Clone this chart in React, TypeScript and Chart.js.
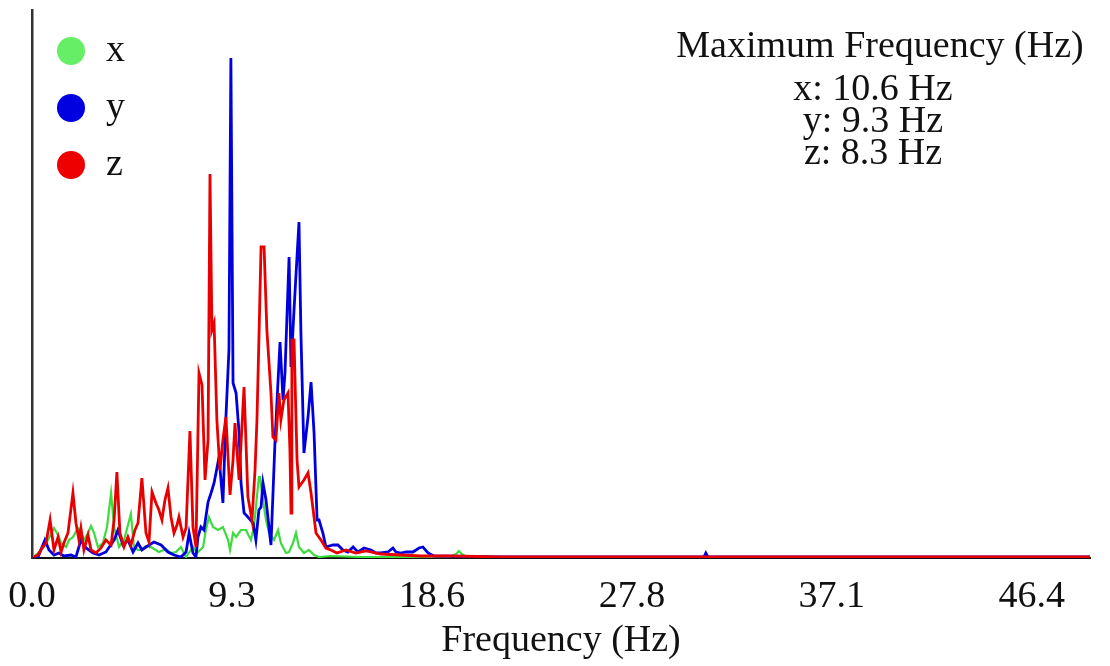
import React, { useEffect, useRef } from "react";
import { Chart, registerables } from "chart.js";

Chart.register(...registerables);

const FONT = "'Liberation Serif', 'Times New Roman', Times, serif";

// ---- texts ----
const seriesNames = ["x", "y", "z"];
const annotationTitle = "Maximum Frequency (Hz)";
const maxFreqLines = ["x: 10.6 Hz", "y: 9.3 Hz", "z: 8.3 Hz"];
const axisTitle = "Frequency (Hz)";

// ---- x axis ----
const xTickValues = [0, 9.28, 18.56, 27.84, 37.12, 46.4];
const xMin = 0;
const xMax = 49.1;
const yMax = 548;

// ---- series x (green) ----
const xFreq = [
  0.09, 0.32, 0.56, 0.79, 1.02, 1.21, 1.35, 1.58, 1.72, 1.9,
  2.13, 2.27, 2.41, 2.6, 2.74, 2.88, 3.06, 3.29, 3.48, 3.67,
  3.81, 4.04, 4.27, 4.59, 4.73, 4.92, 5.06, 5.29, 5.52, 5.89,
  6.22, 6.45, 6.68, 6.91, 7.15, 7.47, 7.66, 7.94, 8.07, 8.21,
  8.4, 8.63, 8.86, 9.1, 9.19, 9.33, 9.47, 9.7, 9.93, 10.16,
  10.3, 10.53, 10.58, 10.72, 10.86, 11.0, 11.23, 11.42, 11.55, 11.79,
  11.93, 12.11, 12.25, 12.39, 12.62, 12.85, 13.09, 13.32, 13.87, 15.27,
  19.44, 19.68, 19.81, 19.95, 20.14, 49.1,
];
const xAmp = [
  1, 6, 11, 20, 30, 23, 15, 11, 18, 21,
  30, 26, 18, 25, 32, 25, 11, 15, 31, 65,
  31, 11, 18, 44, 11, 8, 8, 12, 11, 6,
  9, 5, 6, 11, 1, 11, 5, 11, 28, 41,
  31, 28, 31, 18, 8, 25, 21, 28, 28, 18,
  31, 81, 81, 58, 38, 25, 18, 28, 15, 5,
  6, 15, 25, 11, 5, 8, 3, 1, 2, 1,
  1, 4, 7, 4, 1, 1,
];

// ---- series y (blue) ----
const yFreq = [
  0.09, 0.28, 0.6, 0.79, 1.02, 1.25, 1.48, 1.81, 2.04, 2.27,
  2.51, 2.83, 3.11, 3.43, 3.81, 3.99, 4.22, 4.45, 4.69, 4.92,
  5.1, 5.29, 5.66, 5.99, 6.31, 6.59, 6.91, 7.15, 7.29, 7.47,
  7.61, 7.7, 7.84, 7.98, 8.17, 8.31, 8.45, 8.68, 8.86, 9.0,
  9.14, 9.23, 9.33, 9.47, 9.61, 9.7, 9.84, 10.02, 10.26, 10.39,
  10.53, 10.63, 10.72, 10.86, 11.09, 11.28, 11.51, 11.65, 11.74, 11.93,
  12.02, 12.16, 12.39, 12.48, 12.62, 12.81, 12.95, 13.09, 13.23, 13.32,
  13.5, 13.64, 13.97, 14.2, 14.43, 14.66, 14.9, 15.13, 15.41, 15.73,
  15.96, 16.19, 16.52, 16.75, 16.89, 17.12, 17.36, 17.68, 17.96, 18.14,
  18.38, 18.65, 21.76, 31.18, 31.27, 31.37, 49.1,
];
const yAmp = [
  1, 1, 18, 8, 3, 5, 2, 3, 1, 18,
  10, 5, 3, 6, 18, 28, 13, 18, 6, 15,
  8, 11, 16, 13, 6, 3, 1, 6, 25, 5,
  1, 21, 31, 28, 56, 65, 75, 101, 55, 141,
  208, 500, 175, 165, 125, 75, 45, 41, 35, 18,
  48, 51, 75, 58, 13, 118, 216, 158, 185, 301,
  191, 248, 336, 225, 105, 141, 176, 125, 38, 38,
  25, 11, 13, 13, 8, 6, 11, 6, 10, 8,
  5, 5, 6, 10, 6, 5, 6, 6, 10, 11,
  5, 2, 1, 1, 5, 1, 1,
];

// ---- series z (red) ----
const zFreq = [
  0.09, 0.28, 0.46, 0.65, 0.84, 1.02, 1.21, 1.35, 1.48, 1.67,
  1.9, 2.04, 2.18, 2.27, 2.41, 2.6, 2.74, 2.97, 3.2, 3.43,
  3.67, 3.81, 3.94, 4.08, 4.27, 4.45, 4.59, 4.78, 4.92, 5.1,
  5.29, 5.43, 5.57, 5.75, 5.89, 6.03, 6.17, 6.31, 6.45, 6.59,
  6.73, 6.82, 7.01, 7.15, 7.33, 7.47, 7.61, 7.75, 7.89, 8.03,
  8.17, 8.26, 8.35, 8.45, 8.58, 8.72, 8.86, 9.0, 9.19, 9.33,
  9.42, 9.61, 9.84, 10.02, 10.21, 10.35, 10.44, 10.53, 10.63, 10.77,
  10.9, 11.09, 11.18, 11.32, 11.46, 11.55, 11.69, 11.88, 11.97, 12.02,
  12.06, 12.16, 12.3, 12.39, 12.62, 12.81, 12.95, 13.18, 13.41, 13.64,
  13.87, 14.15, 14.57, 15.03, 15.5, 16.19, 17.12, 18.05, 19.44, 21.76,
  30.0, 40.0, 49.1,
];
const zAmp = [
  1, 3, 10, 15, 38, 8, 21, 6, 15, 25,
  65, 35, 18, 30, 8, 23, 8, 5, 10, 18,
  13, 38, 86, 25, 11, 21, 13, 28, 35, 80,
  25, 16, 66, 55, 48, 38, 58, 70, 41, 25,
  33, 41, 21, 30, 127, 31, 11, 185, 173, 78,
  118, 384, 228, 235, 138, 88, 118, 141, 63, 98,
  135, 78, 171, 61, 38, 88, 138, 218, 311, 311,
  228, 165, 121, 118, 165, 138, 158, 165, 108, 45,
  218, 218, 98, 71, 78, 85, 65, 25, 18, 10,
  8, 5, 8, 5, 7, 4, 3, 2, 2, 1,
  1, 1, 1,
];

const lineColors = ["#3ddc3d", "#0000de", "#e80000"];
const legendColors = ["#66ee66", "#0000e0", "#ee0000"];
const lineWidths = [2.2, 2.8, 2.8];
const drawOrder = [3, 2, 1];

const toPoints = (f: number[], a: number[]) => f.map((v, i) => ({ x: v, y: a[i] }));

const overlayPlugin = {
  id: "overlay",
  afterDraw(chart: any) {
    const ctx = chart.ctx as CanvasRenderingContext2D;
    ctx.save();
    // legend
    chart.data.datasets.forEach((ds: any, i: number) => {
      const cy = 51 + i * 57;
      ctx.beginPath();
      ctx.arc(71, cy, 14, 0, Math.PI * 2);
      ctx.fillStyle = ds.backgroundColor;
      ctx.fill();
      ctx.fillStyle = "#111";
      ctx.font = `38px ${FONT}`;
      ctx.textAlign = "left";
      ctx.textBaseline = "alphabetic";
      ctx.fillText(ds.label, 106, cy + 10);
    });
    // annotation
    ctx.fillStyle = "#111";
    ctx.textAlign = "center";
    ctx.textBaseline = "alphabetic";
    ctx.font = `38px ${FONT}`;
    ctx.fillText(annotationTitle, 880, 57);
    maxFreqLines.forEach((t, i) => {
      ctx.fillText(t, 873, 100 + i * 32);
    });
    ctx.restore();
  },
};

export default function App() {
  const canvasRef = useRef<HTMLCanvasElement | null>(null);

  useEffect(() => {
    if (!canvasRef.current) return;
    const series = [
      toPoints(xFreq, xAmp),
      toPoints(yFreq, yAmp),
      toPoints(zFreq, zAmp),
    ];
    const chart = new Chart(canvasRef.current, {
      type: "line",
      data: {
        datasets: series.map((pts, i) => ({
          label: seriesNames[i],
          data: pts,
          borderColor: lineColors[i],
          backgroundColor: legendColors[i],
          borderWidth: lineWidths[i],
          pointRadius: 0,
          tension: 0,
          fill: false,
          order: drawOrder[i],
        })),
      },
      options: {
        animation: false,
        responsive: true,
        maintainAspectRatio: false,
        layout: { padding: { left: 32, top: 10, right: 20, bottom: 0 } },
        plugins: {
          legend: { display: false },
          tooltip: { enabled: false },
        },
        scales: {
          x: {
            type: "linear",
            min: xMin,
            max: xMax,
            afterBuildTicks: (scale: any) => {
              scale.ticks = xTickValues.map((v) => ({ value: v }));
            },
            afterFit: (scale: any) => {
              scale.height = 108;
              scale.paddingLeft = 0;
              scale.paddingRight = 0;
            },
            grid: { display: false, drawTicks: false },
            border: { display: true, color: "#111", width: 2 },
            ticks: {
              autoSkip: false,
              maxRotation: 0,
              padding: 16,
              color: "#111",
              font: { family: FONT, size: 38 },
              callback: (v: any) => Number(v).toFixed(1),
            },
            title: {
              display: true,
              text: axisTitle,
              color: "#111",
              font: { family: FONT, size: 38 },
              padding: { top: 0, bottom: 2 },
            },
          },
          y: {
            type: "linear",
            min: 0,
            max: yMax,
            afterFit: (scale: any) => {
              scale.width = 0;
            },
            grid: { display: false, drawTicks: false },
            border: { display: true, color: "#333", width: 2.5 },
            ticks: { display: false },
          },
        },
      },
      plugins: [overlayPlugin],
    });
    return () => chart.destroy();
  }, []);

  return (
    <div style={{ position: "fixed", left: 0, top: 0, width: 1110, height: 666, background: "#fff" }}>
      <canvas ref={canvasRef} />
    </div>
  );
}
